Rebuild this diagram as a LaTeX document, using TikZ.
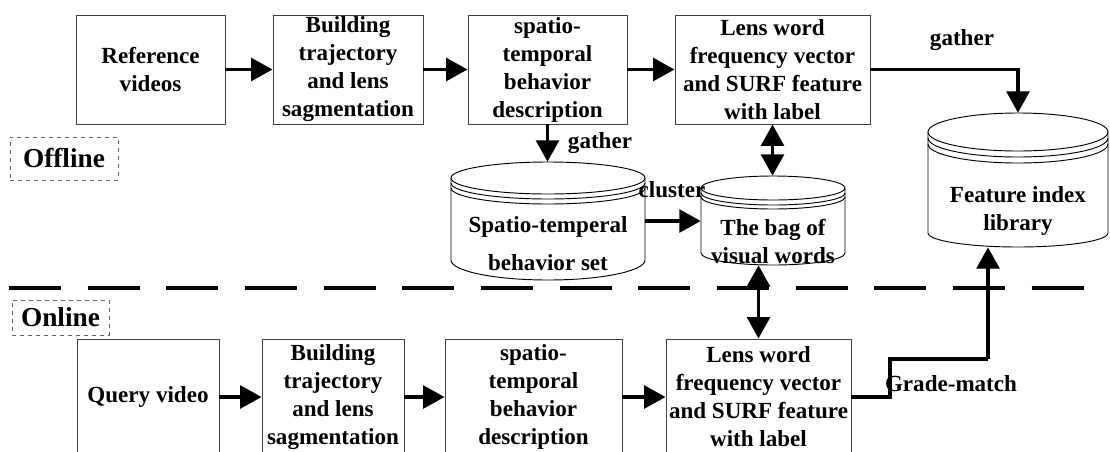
\documentclass[tikz,border=0pt]{standalone}
\usepackage{fontspec}
\setmainfont{Liberation Serif}
\usetikzlibrary{arrows.meta}
\newcommand\bxfont{\fontsize{17.3}{21}\selectfont\bfseries}
\newcommand\lbfont{\fontsize{20.5}{24}\selectfont\bfseries}
\tikzset{
  procbox/.style={draw=black!75, line width=0.7pt, align=center, inner sep=0pt, font=\bxfont},
  shapebox/.style={inner sep=0pt},
  cyltext/.style={align=center, inner sep=0pt, font=\bxfont},
  lbl/.style={inner sep=0pt, font=\bxfont},
  modebox/.style={draw=black!60, dashed, line width=0.7pt, inner sep=0pt, font=\lbfont},
  cyl/.style={draw=black, line width=0.7pt},
  arr/.style={line width=2.6pt, -{Triangle[length=16pt,width=17pt]}},
  darr/.style={line width=2.6pt, {Triangle[length=16pt,width=17pt]}-{Triangle[length=16pt,width=17pt]}},
  sepline/.style={line width=2.6pt, dash pattern=on 39pt off 20pt}
}
\begin{document}
\begin{tikzpicture}[x=0.75pt,y=0.75pt]
\useasboundingbox (0,0) rectangle (1110,-451);
% top row
\node[procbox, minimum width=111.75pt, minimum height=81.75pt] (rv) at (150.5,-69.5) {Reference\\videos};
\node[procbox, minimum width=112.5pt, minimum height=81.75pt] (b1) at (348,-69.5) {Building\\trajectory\\and lens\\sagmentation};
\node[procbox, minimum width=119.25pt, minimum height=81.75pt] (sp1) at (547.5,-69.5) {spatio-\\temporal\\behavior\\description};
\node[procbox, minimum width=146.25pt, minimum height=81.75pt] (lw1) at (772.5,-69.5) {Lens word\\frequency vector\\and SURF feature\\with label};
% bottom row
\node[procbox, minimum width=106.5pt, minimum height=87pt] (qv) at (148,-397) {Query video};
\node[procbox, minimum width=106.5pt, minimum height=87pt] (b2) at (333,-397) {Building\\trajectory\\and lens\\sagmentation};
\node[procbox, minimum width=132.75pt, minimum height=87pt] (sp2) at (533.5,-397) {spatio-\\temporal\\behavior\\description};
\node[procbox, minimum width=138.75pt, minimum height=87pt] (lw2) at (758.5,-397) {Lens word\\frequency vector\\and SURF feature\\with label};
% mode labels
\node[modebox, minimum width=81pt, minimum height=32.25pt] (off) at (64,-158.5) {Offline};
\node[modebox, minimum width=72.75pt, minimum height=26.25pt] (on) at (60.5,-317.5) {Online};
% separator
\coordinate (sepL) at (9,-288);
\coordinate (sepR) at (1112,-288);
\draw[sepline] (sepL) -- (sepR);
% cylinder A
\draw[cyl] (548,-178) ellipse [x radius=72.75pt, y radius=12pt];
\draw[cyl] (451,-183) arc[start angle=180, end angle=360, x radius=72.75pt, y radius=12pt];
\draw[cyl] (451,-188) arc[start angle=180, end angle=360, x radius=72.75pt, y radius=12pt];
\draw[cyl] (451,-178) -- (451,-260) arc[start angle=180, end angle=360, x radius=72.75pt, y radius=15pt] -- (645,-178);
\node[shapebox, minimum width=145.5pt, minimum height=88.5pt] (sb) at (548,-221) {};
\node[cyltext] (sbt) at (548,-244) {Spatio-temperal\\[7.5pt]behavior set};
% cylinder B
\draw[cyl] (773,-188) ellipse [x radius=54pt, y radius=9pt];
\draw[cyl] (701,-193) arc[start angle=180, end angle=360, x radius=54pt, y radius=9pt];
\draw[cyl] (701,-197) arc[start angle=180, end angle=360, x radius=54pt, y radius=9pt];
\draw[cyl] (701,-188) -- (701,-253) arc[start angle=180, end angle=360, x radius=54pt, y radius=9pt] -- (845,-188);
\node[shapebox, minimum width=108pt, minimum height=66.75pt] (bag) at (773,-220.5) {};
\node[cyltext] (bagt) at (773,-241.5) {The bag of\\visual words};
% cylinder C
\draw[cyl] (1018,-132) ellipse [x radius=67.5pt, y radius=14.25pt];
\draw[cyl] (928,-138) arc[start angle=180, end angle=360, x radius=67.5pt, y radius=14.25pt];
\draw[cyl] (928,-144) arc[start angle=180, end angle=360, x radius=67.5pt, y radius=14.25pt];
\draw[cyl] (928,-132) -- (928,-233) arc[start angle=180, end angle=360, x radius=67.5pt, y radius=10.5pt] -- (1108,-132);
\node[shapebox, minimum width=135pt, minimum height=100.5pt] (fil) at (1018,-180) {};
\node[cyltext] (filt) at (1018,-211) {Feature index\\library};
% arrows top row
\draw[arr] (rv) -- (b1);
\draw[arr] (b1) -- (sp1);
\draw[arr] (sp1) -- (lw1);
\draw[arr] (sp1.south) -- (sp1.south |- sb.north);
\draw[darr] (lw1.south) -- (lw1.south |- bag.north);
\draw[arr] (sb.east) -- (sb.east -| bag.west);
\draw[arr] (lw1.east) -| (fil.north);
% arrows bottom row
\draw[arr] (qv) -- (b2);
\draw[arr] (b2) -- (sp2);
\draw[arr] (sp2) -- (lw2);
\draw[darr] (lw2.north) -- (lw2.north |- bag.south);
\coordinate (gm1) at (890,-359);
\coordinate (gm2) at (988,-359);
\draw[line width=2.6pt] (lw2.east) -| (gm1) -- (gm2);
\draw[arr] (gm2) -- (gm2 |- fil.south);
% labels
\node[lbl] (g1) at (600,-143) {gather};
\node[lbl] (g2) at (962,-40) {gather};
\node[lbl] (cl) at (672,-190) {cluster};
\node[lbl] (gm) at (951,-384) {Grade-match};
\end{tikzpicture}
\end{document}
